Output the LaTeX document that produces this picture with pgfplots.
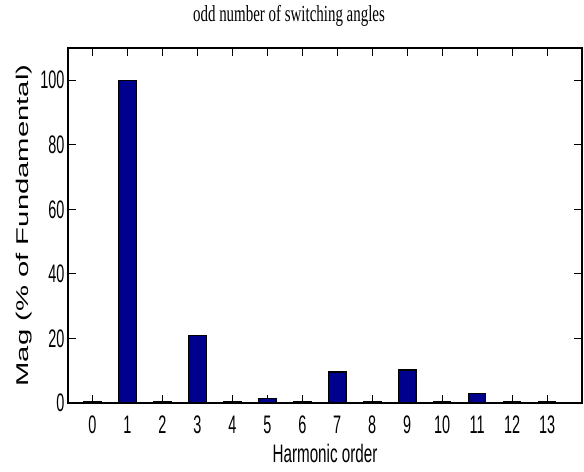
\documentclass[border=0pt]{standalone}
\usepackage{pgfplots}
\pgfplotsset{compat=1.18}
\usepackage{fontspec}
\setmainfont{Liberation Sans}
\newfontfamily\tickfont[FakeStretch=0.57]{Liberation Sans}
\newfontfamily\xlabfont[FakeStretch=0.6]{Liberation Sans}
\newfontfamily\ylabfont[FakeStretch=1.72]{Liberation Sans}
\newfontfamily\titlefont[FakeStretch=0.65]{Liberation Serif}
\definecolor{barblue}{RGB}{0,0,143}
\begin{document}
\begin{tikzpicture}
\useasboundingbox (0,0) rectangle (438pt,353.25pt);
\begin{axis}[
  at={(51pt,51pt)}, anchor=south west,
  width=385.5pt, height=266.25pt, scale only axis,
  xmin=-0.7, xmax=14, ymin=0, ymax=110,
  xtick={0,1,...,13}, ytick={0,20,...,100},
  tick pos=both, tick align=inside,
  major tick length=6pt,
  axis line style={line width=0.9pt},
  every tick/.style={line width=0.8pt, black},
  /pgf/number format/assume math mode=true,
  ticklabel style={font=\tickfont\fontsize{19}{20}\selectfont},
  xticklabel style={anchor=base, yshift=-22.5pt},
  yticklabel style={anchor=east, inner sep=0pt, xshift=-2.5pt},
  title={odd number of switching angles},
  title style={font=\titlefont\fontsize{17.25}{18}\selectfont, at={(axis description cs:0.43,1)}, anchor=base, yshift=13.5pt},
  xlabel={Harmonic order},
  xlabel style={font=\xlabfont\fontsize{19}{20}\selectfont, at={(axis description cs:0.5,0)}, anchor=base, yshift=-44.25pt},
  ylabel={Mag (\% of Fundamental)},
  ylabel style={font=\ylabfont\fontsize{12.75}{14}\selectfont, at={(axis description cs:-0.070,0.5)}, anchor=south, inner sep=0pt},
  clip=false,
]
\addplot[ybar, bar width=0.5, fill=barblue, draw=black, line width=0.9pt]
  coordinates {(0,0.5) (1,100) (2,0.5) (3,20.8) (4,0.5) (5,1.3) (6,0.5) (7,9.6) (8,0.5) (9,10.2) (10,0.5) (11,3.0) (12,0.5) (13,0.5)};
\end{axis}
\end{tikzpicture}
\end{document}
